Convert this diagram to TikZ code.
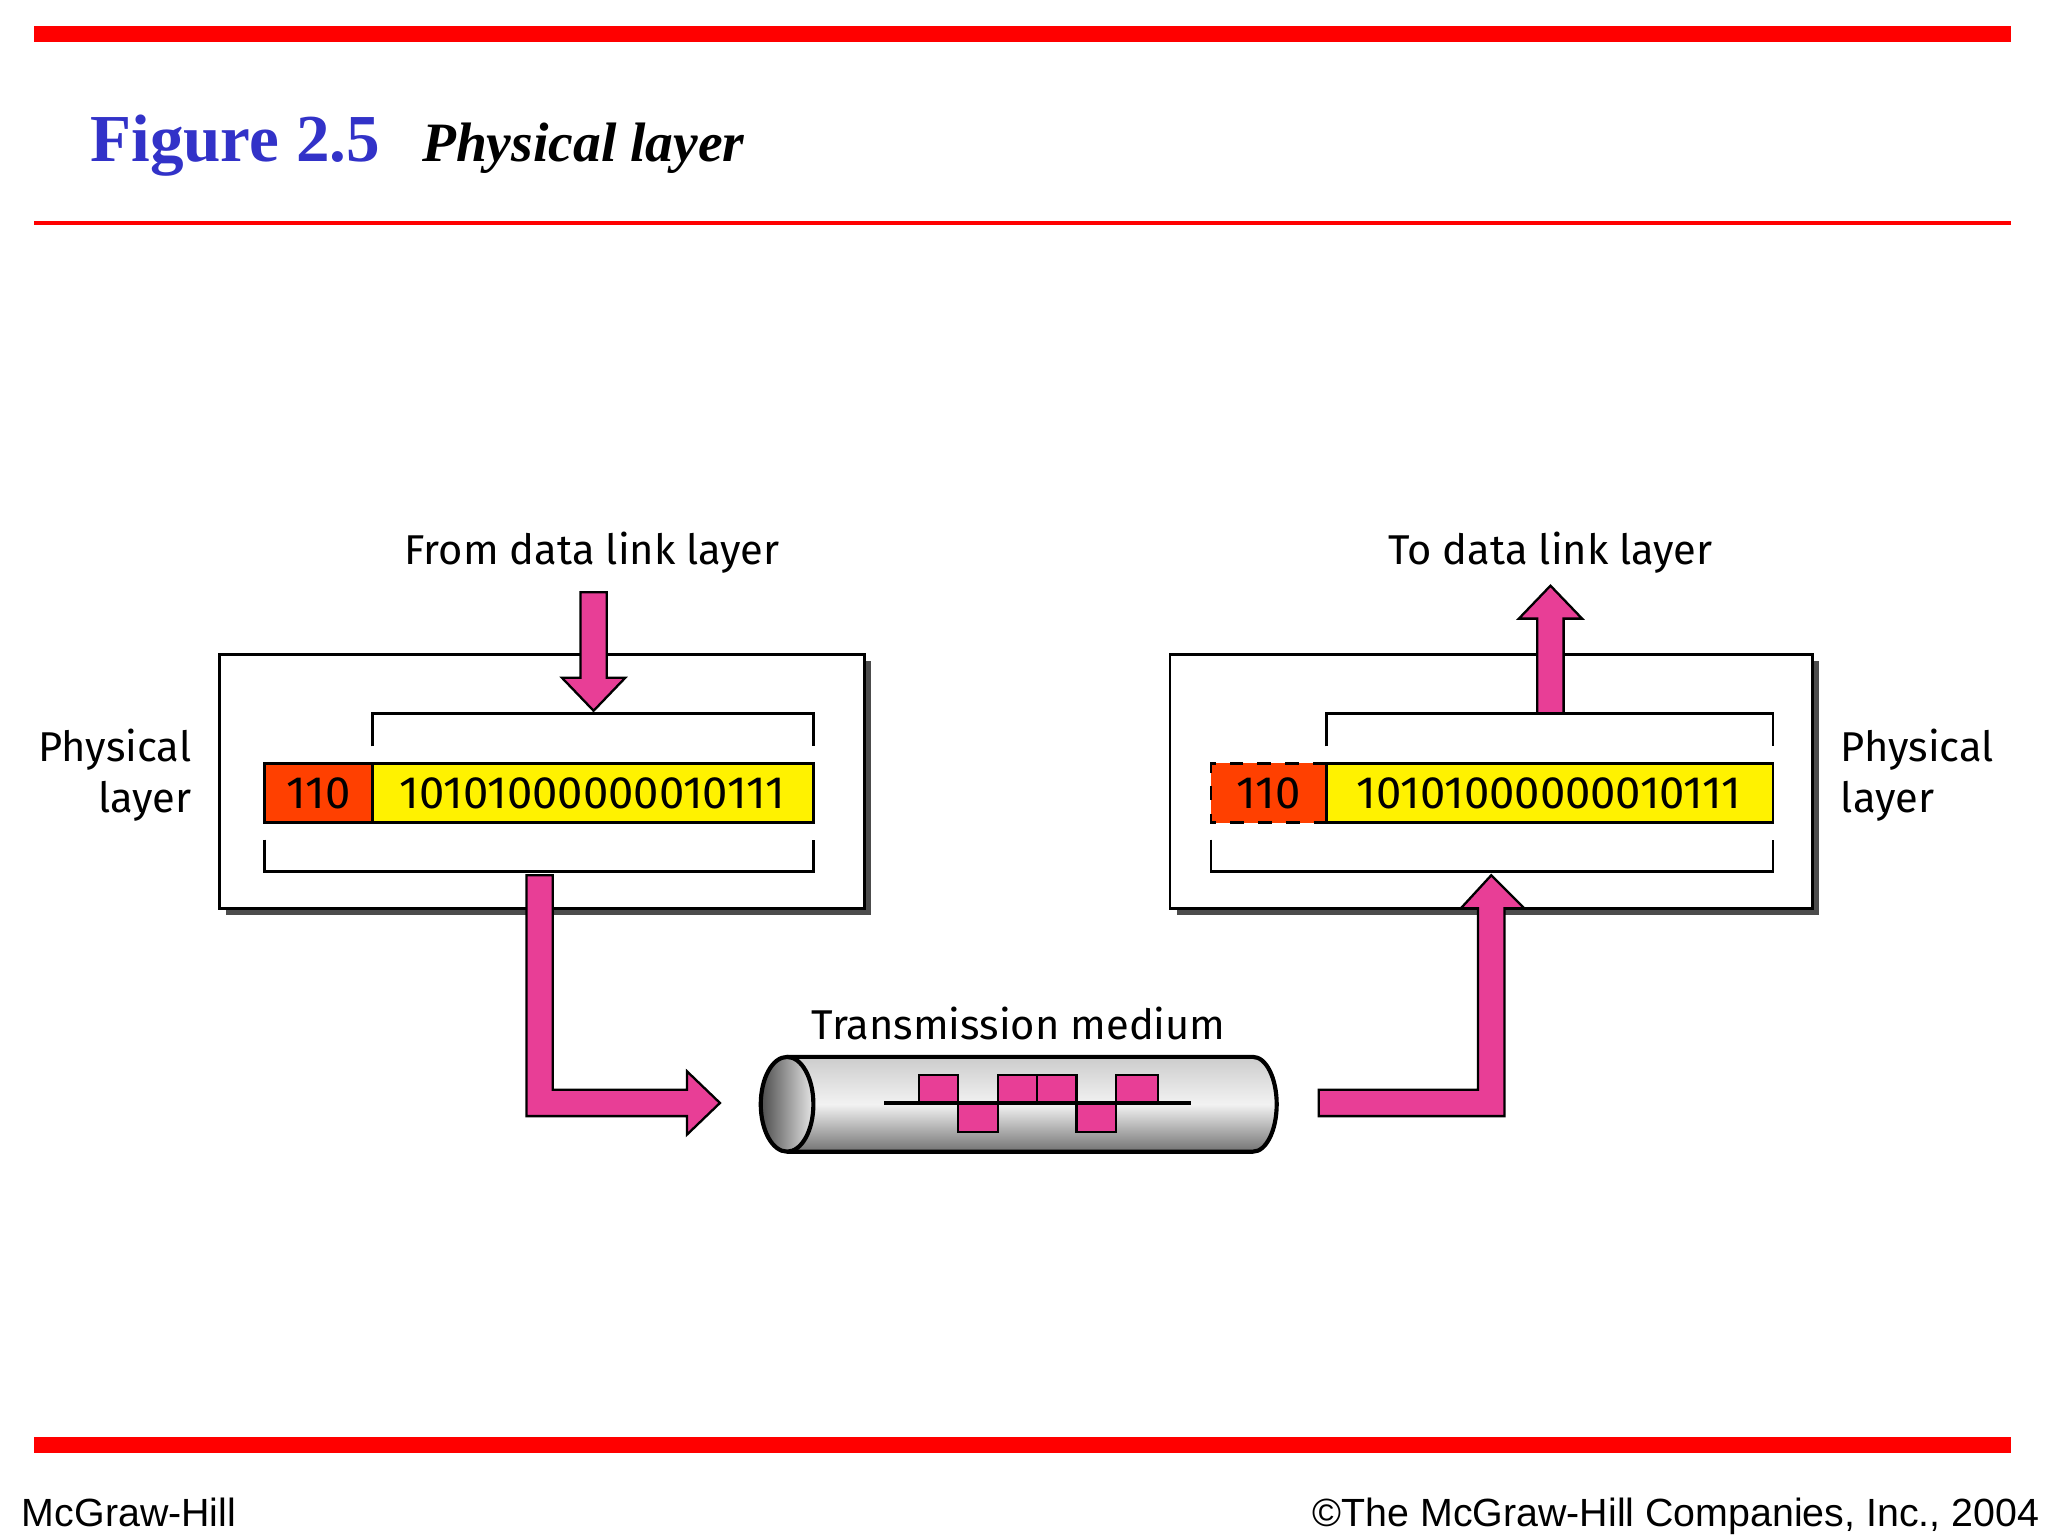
\documentclass[tikz,border=0pt]{standalone}
\usepackage{fontspec}
\setmainfont{Liberation Serif}
\newfontfamily\fira{Fira Sans}
\newfontfamily\arial{Liberation Sans}
\definecolor{hdr}{RGB}{255,64,0}
\definecolor{magc}{RGB}{232,62,150}
\definecolor{titb}{RGB}{50,50,200}
\begin{document}
\begin{tikzpicture}[x=0.01cm,y=-0.01cm,
  mag/.style={fill=magc,draw=black,line width=0.5pt,line join=miter},
  lbl/.style={font=\fira\fontsize{9}{11}\selectfont,inner sep=0pt},
  bits/.style={font=\fira\fontsize{9.8}{11}\selectfont,inner sep=0pt},
  box/.style={draw=black,fill=white,line width=0.6pt},
  shadow/.style={fill=black!70}]
\useasboundingbox (0,0) rectangle (1556,1170);
\fill[white] (0,0) rectangle (1556,1170);
% bars
\fill[red] (26,20) rectangle (1528,32);
\fill[red] (26,168) rectangle (1528,171);
\fill[red] (26,1092) rectangle (1528,1104);
\node[anchor=base west,inner sep=0pt,text=titb,font=\bfseries\fontsize{14.5}{16}\selectfont] (fig) at (68,123) {Figure 2.5};
\node[anchor=base west,inner sep=0pt,font=\bfseries\itshape\fontsize{12}{14}\selectfont] (tit) at (320,123) {Physical layer};
\node[anchor=base west,inner sep=0pt,font=\arial\fontsize{8.5}{10}\selectfont] (mh) at (16,1160) {McGraw-Hill};
\node[anchor=base east,inner sep=0pt,font=\arial\fontsize{8.5}{10}\selectfont] (cp) at (1550,1160) {\textcopyright The McGraw-Hill Companies, Inc., 2004};
% left box
\fill[shadow] (172,502) rectangle (662,695);
\draw[box] (167,497) rectangle (657,690);
\draw[line width=0.6pt] (283,567) -- (283,542) -- (618,542) -- (618,567);
\draw[line width=0.6pt] (201,638) -- (201,662) -- (618,662) -- (618,638);
\fill[hdr] (201,580) rectangle (283,625);
\draw[line width=0.6pt,fill=yellow] (283,580) rectangle (618,625);
\draw[line width=0.6pt] (201,580) rectangle (283,625);
\node[bits] (l110) at (242,603) {110};
\node[bits] (lbits) at (450,603) {10101000000010111};
\node[lbl,align=right,anchor=east] (lp) at (146,589) {Physical\\layer};
\node[lbl] (from) at (450,420) {From data link layer};
\draw[mag] (441,450) -- (461,450) -- (461,515) -- (475,515) -- (451,540) -- (427,515) -- (441,515) -- cycle;
% right box
\fill[shadow] (894,502) rectangle (1382,695);
\draw[box] (889,497) rectangle (1377,690);
\draw[line width=0.6pt] (1008,567) -- (1008,542) -- (1347,542) -- (1347,567);
\draw[line width=0.6pt] (920,638) -- (920,662) -- (1347,662) -- (1347,638);
\fill[hdr] (920,580) rectangle (1008,625);
\draw[line width=0.6pt,dashed] (1008,580) -- (920,580) -- (920,625) -- (1008,625);
\draw[line width=0.6pt,fill=yellow] (1008,580) rectangle (1347,625);
\node[bits] (r110) at (964,603) {110};
\node[bits] (rbits) at (1177,603) {10101000000010111};
\node[lbl,align=left,anchor=west] (rp) at (1398,589) {Physical\\layer};
\node[lbl] (to) at (1178,420) {To data link layer};
\draw[mag] (1168,542) -- (1188,542) -- (1188,470) -- (1202,470) -- (1178,445) -- (1154,470) -- (1168,470) -- cycle;
% L arrows
\draw[mag] (400,665) -- (420,665) -- (420,828) -- (522,828) -- (522,814) -- (547,838) -- (522,862) -- (522,848) -- (400,848) -- cycle;
\draw[mag] (1002,828) -- (1123,828) -- (1123,690) -- (1110,690) -- (1133,665) -- (1158,690) -- (1143,690) -- (1143,848) -- (1002,848) -- cycle;
% pipe
\shade[top color=black!20,bottom color=black!55,middle color=black!5] (598,803) -- (952,803) arc[start angle=-90,end angle=90,x radius=18,y radius=36] -- (598,875) -- cycle;
\draw[line width=0.9pt] (598,803) -- (952,803) arc[start angle=-90,end angle=90,x radius=18,y radius=36] -- (598,875);
\shade[left color=black!70,right color=black!10,draw=black,line width=0.9pt] (598,839) ellipse[x radius=20,y radius=36];
\node[lbl] (tm) at (774,778) {Transmission medium};
\foreach \a/\b/\c in {698/728/817,728/758/860,758/788/817,788/818/817,818/848/860,848/880/817}{
  \draw[mag] (\a,838) rectangle (\b,\c);}
\draw[line width=0.8pt] (672,838) -- (905,838);
\end{tikzpicture}
\end{document}
